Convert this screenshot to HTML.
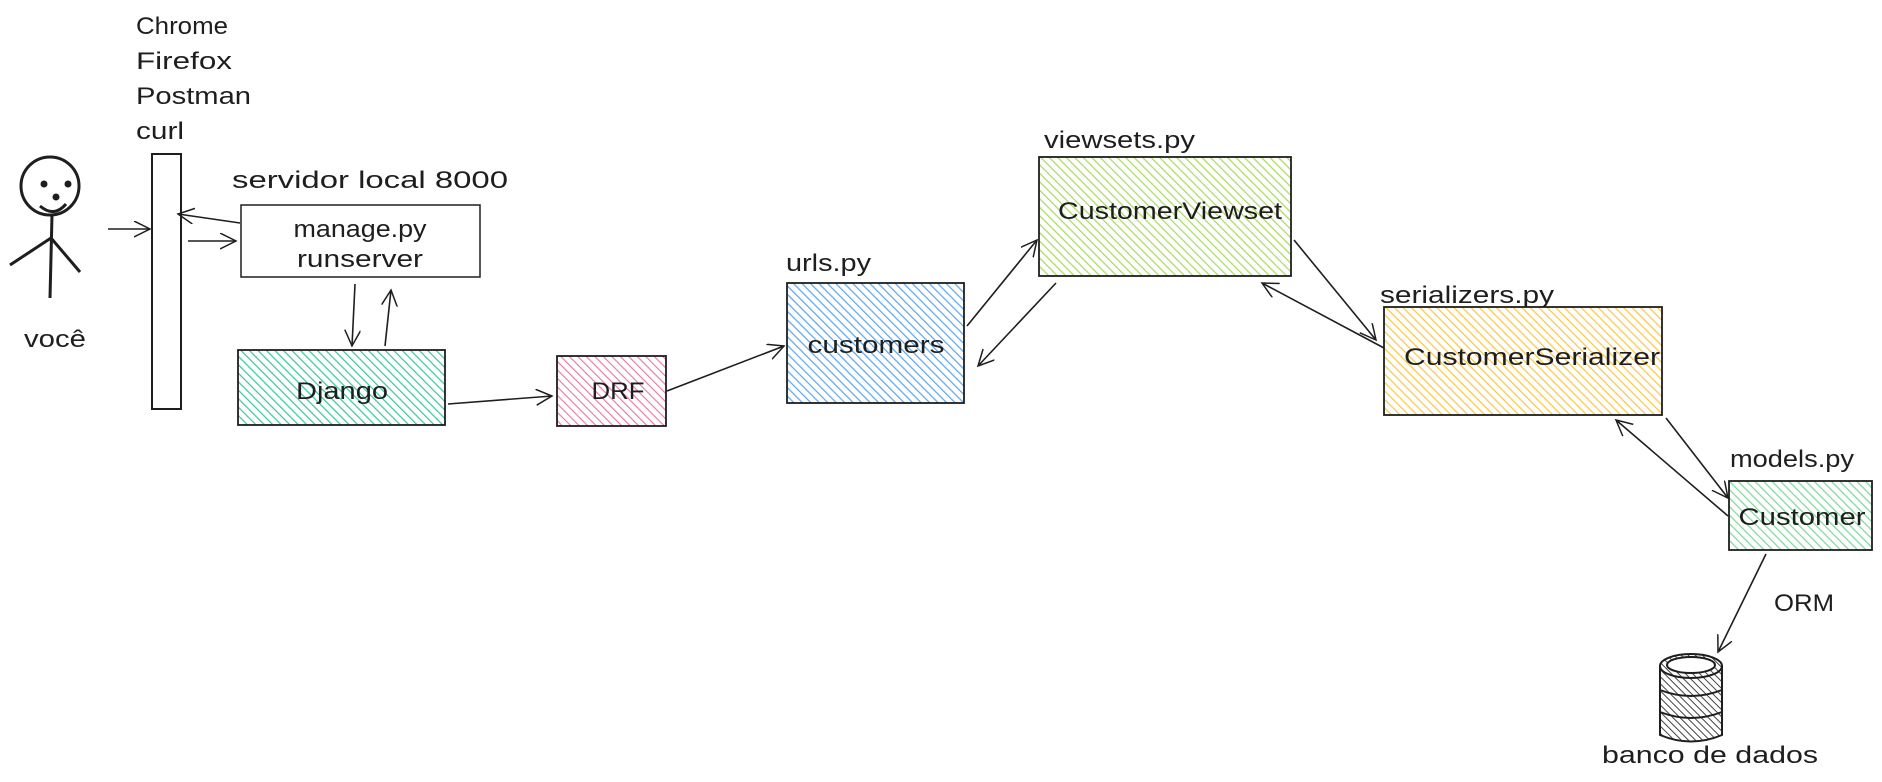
<!DOCTYPE html>
<html><head><meta charset="utf-8"><style>
html,body{margin:0;padding:0;background:#fff;width:1882px;height:782px;overflow:hidden}
svg{display:block}
text{font-family:"Liberation Sans",sans-serif;font-size:24px;fill:#1e1e1e}
</style></head><body>
<svg width="1882" height="782" viewBox="0 0 1882 782" xmlns="http://www.w3.org/2000/svg">
<defs>
<pattern id="hT" width="6" height="6" patternUnits="userSpaceOnUse" patternTransform="rotate(-45)"><rect width="6" height="6" fill="#fff"/><line x1="0" y1="0" x2="0" y2="6" stroke="#38c995" stroke-width="2.4"/></pattern>
<pattern id="hP" width="6" height="6" patternUnits="userSpaceOnUse" patternTransform="rotate(-45)"><rect width="6" height="6" fill="#fff"/><line x1="0" y1="0" x2="0" y2="6" stroke="#e8789a" stroke-width="2.2"/></pattern>
<pattern id="hB" width="6" height="6" patternUnits="userSpaceOnUse" patternTransform="rotate(-45)"><rect width="6" height="6" fill="#fff"/><line x1="0" y1="0" x2="0" y2="6" stroke="#5aa5ee" stroke-width="2.4"/></pattern>
<pattern id="hG" width="6" height="6" patternUnits="userSpaceOnUse" patternTransform="rotate(-45)"><rect width="6" height="6" fill="#fff"/><line x1="0" y1="0" x2="0" y2="6" stroke="#a6db5c" stroke-width="2.4"/></pattern>
<pattern id="hY" width="6" height="6" patternUnits="userSpaceOnUse" patternTransform="rotate(-45)"><rect width="6" height="6" fill="#fff"/><line x1="0" y1="0" x2="0" y2="6" stroke="#fcc740" stroke-width="2.4"/></pattern>
<pattern id="hM" width="6" height="6" patternUnits="userSpaceOnUse" patternTransform="rotate(-45)"><rect width="6" height="6" fill="#fff"/><line x1="0" y1="0" x2="0" y2="6" stroke="#7bd89a" stroke-width="2.4"/></pattern>
<pattern id="hD" width="5" height="5" patternUnits="userSpaceOnUse" patternTransform="rotate(-45)"><rect width="5" height="5" fill="#fff"/><line x1="0" y1="0" x2="0" y2="5" stroke="#444" stroke-width="2"/></pattern>
<marker id="a" markerWidth="20" markerHeight="20" refX="16" refY="8" orient="auto" markerUnits="userSpaceOnUse"><path d="M0,0 L16,8 L0,16" fill="none" stroke="#1e1e1e" stroke-width="1.5"/></marker>
</defs>
<text x="136" y="34" textLength="92" lengthAdjust="spacingAndGlyphs">Chrome</text>
<text x="136" y="69" textLength="96" lengthAdjust="spacingAndGlyphs">Firefox</text>
<text x="136" y="104" textLength="115" lengthAdjust="spacingAndGlyphs">Postman</text>
<text x="136" y="139" textLength="48" lengthAdjust="spacingAndGlyphs">curl</text>
<g stroke="#1e1e1e" stroke-width="3" fill="none">
<circle cx="50" cy="186" r="29"/>
<path d="M40,206 Q54,218 66,204"/>
<line x1="52" y1="215" x2="50" y2="298"/>
<line x1="51" y1="238" x2="10" y2="265"/>
<line x1="51" y1="238" x2="80" y2="272"/>
</g>
<circle cx="44" cy="184" r="3.5" fill="#1e1e1e"/><circle cx="68" cy="184" r="3.5" fill="#1e1e1e"/><circle cx="56" cy="197" r="3.5" fill="#1e1e1e"/>
<text x="24" y="347" textLength="62" lengthAdjust="spacingAndGlyphs">você</text>
<rect x="152" y="154" width="29" height="255" fill="#fff" stroke="#1e1e1e" stroke-width="2"/>
<g stroke="#1e1e1e" stroke-width="1.6" fill="none" marker-end="url(#a)">
<line x1="108" y1="229" x2="150" y2="229"/>
<line x1="240" y1="223" x2="178" y2="214"/>
<line x1="188" y1="241" x2="236" y2="241"/>
<line x1="355" y1="284" x2="352" y2="346"/>
<line x1="385" y1="346" x2="391" y2="290"/>
<line x1="448" y1="404" x2="552" y2="396"/>
<line x1="667" y1="391" x2="784" y2="346"/>
<line x1="967" y1="326" x2="1037" y2="240"/>
<line x1="1056" y1="283" x2="978" y2="366"/>
<line x1="1294" y1="240" x2="1376" y2="340"/>
<line x1="1384" y1="348" x2="1262" y2="283"/>
<line x1="1666" y1="418" x2="1728" y2="498"/>
<line x1="1728" y1="516" x2="1616" y2="420"/>
<line x1="1766" y1="554" x2="1718" y2="652"/>
</g>
<text x="232" y="188" textLength="276" lengthAdjust="spacingAndGlyphs">servidor local 8000</text>
<rect x="241" y="205" width="239" height="72" fill="#fff" stroke="#1e1e1e" stroke-width="1.5"/>
<text x="360" y="237" text-anchor="middle" textLength="133" lengthAdjust="spacingAndGlyphs">manage.py</text>
<text x="360" y="267" text-anchor="middle" textLength="126" lengthAdjust="spacingAndGlyphs">runserver</text>
<rect x="238" y="350" width="207" height="75" fill="url(#hT)" stroke="#1e1e1e" stroke-width="1.8"/>
<text x="342" y="399" text-anchor="middle" textLength="92" lengthAdjust="spacingAndGlyphs">Django</text>
<rect x="557" y="356" width="109" height="70" fill="url(#hP)" stroke="#1e1e1e" stroke-width="1.8"/>
<text x="618" y="399" text-anchor="middle" textLength="53" lengthAdjust="spacingAndGlyphs">DRF</text>
<text x="786" y="271" textLength="85" lengthAdjust="spacingAndGlyphs">urls.py</text>
<rect x="787" y="283" width="177" height="120" fill="url(#hB)" stroke="#1e1e1e" stroke-width="1.8"/>
<text x="876" y="353" text-anchor="middle" textLength="137" lengthAdjust="spacingAndGlyphs">customers</text>
<text x="1044" y="148" textLength="151" lengthAdjust="spacingAndGlyphs">viewsets.py</text>
<rect x="1039" y="157" width="252" height="119" fill="url(#hG)" stroke="#1e1e1e" stroke-width="1.8"/>
<text x="1170" y="219" text-anchor="middle" textLength="224" lengthAdjust="spacingAndGlyphs">CustomerViewset</text>
<text x="1380" y="303" textLength="174" lengthAdjust="spacingAndGlyphs">serializers.py</text>
<rect x="1384" y="307" width="278" height="108" fill="url(#hY)" stroke="#1e1e1e" stroke-width="1.8"/>
<text x="1532" y="365" text-anchor="middle" textLength="256" lengthAdjust="spacingAndGlyphs">CustomerSerializer</text>
<text x="1730" y="467" textLength="124" lengthAdjust="spacingAndGlyphs">models.py</text>
<rect x="1729" y="481" width="143" height="69" fill="url(#hM)" stroke="#1e1e1e" stroke-width="1.8"/>
<text x="1802" y="525" text-anchor="middle" textLength="127" lengthAdjust="spacingAndGlyphs">Customer</text>
<text x="1774" y="611" textLength="60" lengthAdjust="spacingAndGlyphs">ORM</text>
<g stroke="#1e1e1e" stroke-width="2">
<path d="M1660,735 L1660,712 L1722,712 L1722,735 Q1691,748 1660,735Z" fill="url(#hD)"/>
<path d="M1660,712 L1660,690 L1722,690 L1722,712 Q1691,724 1660,712Z" fill="url(#hD)"/>
<path d="M1660,690 L1660,666 L1722,666 L1722,690 Q1691,702 1660,690Z" fill="url(#hD)"/>
<ellipse cx="1691" cy="666" rx="31" ry="12" fill="url(#hD)"/>
<ellipse cx="1691" cy="665" rx="24" ry="8" fill="#fff"/>
</g>
<text x="1710" y="763" text-anchor="middle" textLength="216" lengthAdjust="spacingAndGlyphs">banco de dados</text>
</svg>
</body></html>
